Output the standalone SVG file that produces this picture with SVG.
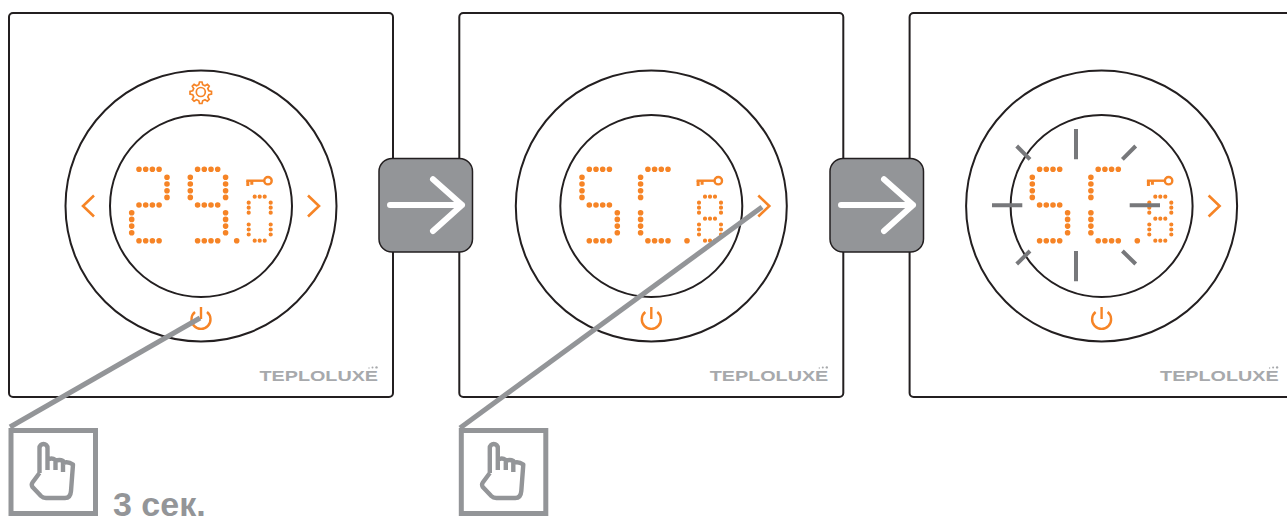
<svg xmlns="http://www.w3.org/2000/svg" width="1287" height="516" viewBox="0 0 1287 516">
<style>
.ln{fill:none;stroke:#231f20;stroke-width:2}
.panel{fill:#fff;stroke:#231f20;stroke-width:2}
.big{fill:none;stroke:#f68426;stroke-width:5.6;stroke-linecap:round;stroke-dasharray:0 6.7}
.small{fill:none;stroke:#f68426;stroke-width:4.2;stroke-linecap:round;stroke-dasharray:0 5}
.ic{fill:none;stroke:#f68426;stroke-width:2.4}
.logo{font-family:"Liberation Sans",Arial,sans-serif;font-weight:700;font-size:14.500px;fill:#a7a9ac}
.box{fill:#939598;stroke:#231f20;stroke-width:1.5}
.arr{fill:none;stroke:#fff;stroke-width:6;stroke-linecap:round;stroke-linejoin:round}
.conn{fill:none;stroke:#939598;stroke-width:5}
.hand{fill:none;stroke:#939598;stroke-width:4.4;stroke-linejoin:round;stroke-linecap:butt}
.flash{fill:none;stroke:#77787b;stroke-width:4}
.txt{font-family:"Liberation Sans",Arial,sans-serif;font-weight:700;font-size:34px;fill:#939598}
</style>
<defs>
<path id="b2" class="big" d="M7.3 169.3h20.2M35.3 177.3v20.2M7.3 205h20.2M0 212.7v20.2M7.3 240.7h20.2"/>
<path id="b9" class="big" d="M7.3 169.3h20.2M0 177.3v20.2M35.3 177.3v20.2M7.3 205h20.2M35.3 212.7v20.2M7.3 240.7h20.2"/>
<path id="b5" class="big" d="M7.3 169.3h20.2M0 177.3v20.2M7.3 205h20.2M35.3 212.7v20.2M7.3 240.7h20.2"/>
<path id="bC" class="big" d="M7.3 169.3h20.2M0 177.3v20.2M0 212.7v20.2M7.3 240.7h20.2"/>
<circle id="pt" cx="236.7" cy="240.7" r="2.800" fill="#f68426"/>
<path id="s0" class="small" d="M6 196.7h10.1M0 202.7v10.1M22 202.7v10.1M0 224.5v10.1M22 224.5v10.1M6 240.7h10.1"/>
<path id="s8" class="small" d="M6 196.7h10.1M0 202.7v10.1M22 202.7v10.1M6 218.7h10.1M0 224.5v10.1M22 224.5v10.1M6 240.7h10.1"/>
<g id="key" class="ic"><circle cx="268" cy="180.7" r="3.700"/><path d="M264.300 180.700H246.300"/><path d="M247.800 180.700v5.300M251.800 180.700v4" style="stroke-width:3"/></g>
<path id="chevR" class="ic" d="M308 195.500l11 10.500-11 10.500" style="stroke-width:2.600"/>
<path id="chevL" class="ic" d="M94 195.500l-11 10.500 11 10.500" style="stroke-width:2.600"/>
<g id="pow" class="ic"><path d="M195 312a9.500 9.500 0 1 0 12 0"/><path d="M201 307v12"/></g>
<g id="logo"><text class="logo" x="259.500" y="381" textLength="118.500" lengthAdjust="spacingAndGlyphs">TEPLOLUXE</text><circle cx="369" cy="368" r=".7" fill="#a7a9ac"/><circle cx="372.500" cy="367.600" r="1" fill="#a7a9ac"/><circle cx="376.500" cy="367.400" r="1.200" fill="#a7a9ac"/></g>
<g id="face"><rect class="panel" x="9" y="13" width="384" height="384" rx="4"/><circle class="ln" cx="201" cy="206" r="135.500"/><circle class="ln" cx="201" cy="206" r="91"/><use href="#key"/><use href="#chevR"/><use href="#pow"/><use href="#logo"/></g>
<g id="handI"><rect class="conn" x="11" y="430.500" width="84.500" height="83"/><path class="hand" d="M39.500 473V448a4 4 0 0 1 8 0V470M47.500 460q4-3 8 0V470M55.500 461q4-2 7.500 0V472M63 463q5-2 10 1.500L71 491q-.5 7-6 7H46q-3 0-5-2L32.500 487q-1.500-2.500 0-4.500L39.500 473"/></g>
</defs>
<g id="panel-1"><use href="#face"/><path class="ic" d="M199.500 82h2.500l.7 2.700 2.300 1 2.400-1.400 1.800 1.800-1.400 2.400 1 2.300 2.700.7v2.500l-2.700.7-1 2.300 1.400 2.400-1.800 1.800-2.400-1.400-2.300 1-.7 2.700h-2.500l-.7-2.700-2.300-1-2.400 1.400-1.800-1.800 1.400-2.400-1-2.300-2.700-.7v-2.500l2.700-.7 1-2.300-1.400-2.400 1.800-1.800 2.400 1.400 2.300-1z" style="stroke-width:1.700"/><circle class="ic" cx="200.800" cy="92" r="4.500" style="stroke-width:1.700"/><use href="#chevL"/><use href="#b2" x="131.700"/><use href="#b9" x="190.300"/><use href="#pt"/><use href="#s0" x="248.700"/></g>
<g id="panel-2" transform="translate(450.3 0)"><use href="#face"/><use href="#b5" x="131.700"/><use href="#bC" x="190.300"/><use href="#pt"/><use href="#s8" x="248.700"/></g>
<g id="panel-3" transform="translate(900.6 0)"><use href="#face"/><use href="#b5" x="131.700"/><use href="#bC" x="190.300"/><use href="#pt"/><use href="#s8" x="248.700"/><path class="flash" d="M175.400 129v30.300M175.400 251v30.300M91.400 205.300h30.300M229.100 205.300h30.300M116.100 146l13.300 13.300M235.100 146l-13.300 13.300M116.100 264l13.300-13M235.100 264l-13.300-13"/></g>
<g id="step-1"><rect class="box" x="379" y="158.500" width="93.500" height="93.500" rx="13"/><path class="arr" d="M390 205H462M433 179.300L462 205 433 231"/></g>
<g id="step-2"><rect class="box" x="830" y="158.500" width="93.500" height="93.500" rx="13"/><path class="arr" d="M841 205H913M884 179.300L913 205 884 231"/></g>
<g id="connectors"><path class="conn" d="M200 318L10 427"/><path class="conn" d="M762 207L460 428"/></g>
<g id="touch-1"><use href="#handI"/><text class="txt" x="113" y="515.500">3 сек.</text></g>
<g id="touch-2" transform="translate(450.3 0)"><use href="#handI"/></g>
</svg>
